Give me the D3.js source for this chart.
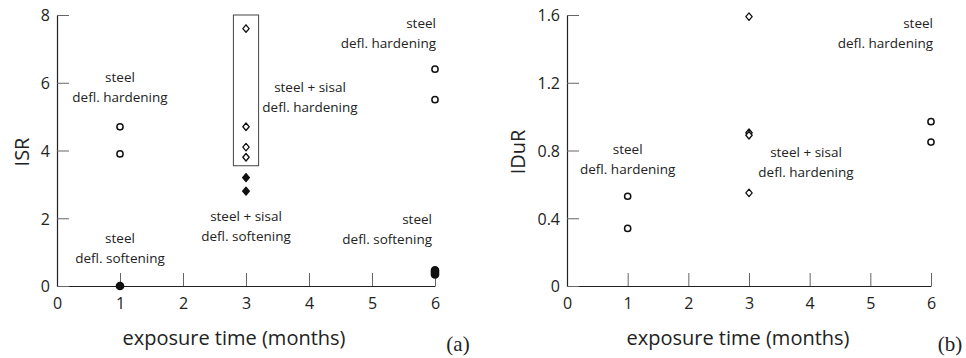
<!DOCTYPE html>
<html>
<head>
<meta charset="utf-8">
<script src="https://cdn.jsdelivr.net/npm/d3@7"></script>
<style>
  html, body { margin: 0; padding: 0; background: #fff; }
  svg { display: block; }
  text { font-family: "Open Sans", "DejaVu Sans", sans-serif; fill: #222; }
</style>
</head>
<body>
<svg id="chart" width="966" height="358"></svg>
<script>
// Exposure time (months) and measured ratios for each fibre / deflection class

// (a) ISR
const isrSteelHardMonths = [1, 1, 6, 6];
const isrSteelHardValues = [4.7, 3.9, 6.4, 5.5];
const isrSteelSoftMonths = [1, 6, 6, 6];
const isrSteelSoftValues = [0, 0.34, 0.40, 0.46];
const isrSisalHardMonths = [3, 3, 3, 3];
const isrSisalHardValues = [7.6, 4.7, 4.1, 3.8];
const isrSisalSoftMonths = [3, 3];
const isrSisalSoftValues = [3.2, 2.8];
const isrBoxMonths = [2.8, 3.2];
const isrBoxValues = [3.55, 8];

// (b) IDuR
const iduSteelHardMonths = [1, 1, 6, 6];
const iduSteelHardValues = [0.53, 0.34, 0.97, 0.85];
const iduSisalHardMonths = [3, 3, 3, 3];
const iduSisalHardValues = [1.59, 0.905, 0.89, 0.55];

const monthTicks = [0, 1, 2, 3, 4, 5, 6];
const isrTicks = [0, 2, 4, 6, 8];
const iduTicks = [0, 0.4, 0.8, 1.2, 1.6];
const iduTickLabels = ["0", "0.4", "0.8", "1.2", "1.6"];

const svg = d3.select("#chart");
const axisColor = "#222";

function zip(ms, vs) { return ms.map((m, i) => ({ m, v: vs[i] })); }

// near-square diamond marker
const squatDiamond = {
  draw(ctx, size) {
    const h = Math.sqrt(size) / 2;
    const w = h * 0.85;
    ctx.moveTo(0, -h);
    ctx.lineTo(w, 0);
    ctx.lineTo(0, h);
    ctx.lineTo(-w, 0);
    ctx.closePath();
  }
};

function panel(opts) {
  const x = d3.scaleLinear().domain([0, 6]).range([opts.x0, opts.x1]);
  const y = d3.scaleLinear().domain(opts.yDomain).range([286, 15]);
  const g = svg.append("g");

  const xAxis = d3.axisBottom(x).tickValues(monthTicks)
    .tickSizeInner(-13).tickSizeOuter(0).tickPadding(16)
    .tickFormat(d3.format("d"));
  const gx = g.append("g").attr("transform", `translate(0,${y(0)})`).call(xAxis);

  const yAxis = d3.axisLeft(y).tickValues(opts.yTicks)
    .tickSizeInner(-12).tickSizeOuter(0).tickPadding(7)
    .tickFormat((d, i) => opts.yLabels[i]);
  const gy = g.append("g").attr("transform", `translate(${x(0)},0)`).call(yAxis);

  [gx, gy].forEach(a => {
    a.select(".domain").attr("stroke", axisColor).attr("stroke-width", 1.2);
    a.selectAll(".tick line").attr("stroke", "#666").attr("stroke-width", 1);
    a.selectAll(".tick text").attr("fill", "#222")
      .style("font-size", "16px").style("font-family", "'Open Sans', sans-serif");
  });
  gx.selectAll(".tick text").attr("dy", "0.42em");
  gy.selectAll(".tick text").attr("dy", "0.36em");

  // axis titles
  g.append("text")
    .attr("x", opts.xTitleX).attr("y", 345)
    .attr("text-anchor", "middle")
    .style("font-size", "20px")
    .text("exposure time (months)");
  g.append("text")
    .attr("transform", `translate(${opts.yTitleX},${152}) rotate(-90)`)
    .attr("text-anchor", "middle")
    .attr("dy", "0.35em")
    .style("font-size", "20px")
    .text(opts.yTitle);

  // panel tag
  g.append("text")
    .attr("x", opts.tagX).attr("y", 351)
    .attr("text-anchor", "middle")
    .style("font-family", "'Liberation Serif', 'Times New Roman', serif")
    .style("font-size", "21px")
    .text(opts.tag);

  return { g, x, y };
}

function circles(p, data, filled) {
  p.g.append("g").selectAll("circle").data(data).join("circle")
    .attr("cx", d => p.x(d.m)).attr("cy", d => p.y(d.v))
    .attr("r", filled ? 3.6 : 3.1)
    .attr("fill", filled ? "#111" : "#fff")
    .attr("stroke", "#111").attr("stroke-width", 1.5);
}

function diamonds(p, data, filled) {
  const sym = d3.symbol().type(squatDiamond).size(filled ? 64 : 56);
  p.g.append("g").selectAll("path").data(data).join("path")
    .attr("transform", d => `translate(${p.x(d.m)},${p.y(d.v)})`)
    .attr("d", sym)
    .attr("fill", filled ? "#111" : "#fff")
    .attr("stroke", "#111").attr("stroke-width", 1.3)
    .attr("stroke-linejoin", "round");
}

function label(p, m, v, lines, anchor, dxPx, dyPx) {
  const t = p.g.append("text")
    .attr("text-anchor", anchor)
    .style("font-size", "13.5px");
  lines.forEach((s, i) => {
    t.append("tspan")
      .attr("x", p.x(m) + (dxPx || 0))
      .attr("y", p.y(v) + (dyPx || 0) + i * 20.5)
      .attr("dy", "0.35em")
      .text(s);
  });
}

// ---------- (a) ISR ----------
const a = panel({
  x0: 57, x1: 435, yDomain: [0, 8], yTicks: isrTicks,
  yLabels: isrTicks.map(String), yTitle: "ISR", yTitleX: 22,
  xTitleX: 234, tag: "(a)", tagX: 458
});

a.g.append("rect")
  .attr("x", a.x(isrBoxMonths[0])).attr("y", a.y(isrBoxValues[1]))
  .attr("width", a.x(isrBoxMonths[1]) - a.x(isrBoxMonths[0]))
  .attr("height", a.y(isrBoxValues[0]) - a.y(isrBoxValues[1]))
  .attr("fill", "none").attr("stroke", "#444").attr("stroke-width", 1);

circles(a, zip(isrSteelHardMonths, isrSteelHardValues), false);
circles(a, zip(isrSteelSoftMonths, isrSteelSoftValues), true);
diamonds(a, zip(isrSisalHardMonths, isrSisalHardValues), false);
diamonds(a, zip(isrSisalSoftMonths, isrSisalSoftValues), true);

label(a, 1, 6.17, ["steel", "defl. hardening"], "middle");
label(a, 1, 1.42, ["steel", "defl. softening"], "middle");
label(a, 3, 2.06, ["steel + sisal", "defl. softening"], "middle");
label(a, 3, 5.87, ["steel + sisal", "defl. hardening"], "middle", 64);
label(a, 6, 7.76, ["steel", "defl. hardening"], "end", 1);
label(a, 6, 1.98, ["steel", "defl. softening"], "end", -3);

// ---------- (b) IDuR ----------
const b = panel({
  x0: 567, x1: 931, yDomain: [0, 1.6], yTicks: iduTicks,
  yLabels: iduTickLabels, yTitle: "IDuR", yTitleX: 518,
  xTitleX: 738, tag: "(b)", tagX: 950
});

circles(b, zip(iduSteelHardMonths, iduSteelHardValues), false);
diamonds(b, zip(iduSisalHardMonths, iduSisalHardValues), false);

label(b, 1, 0.808, ["steel", "defl. hardening"], "middle");
label(b, 3, 0.79, ["steel + sisal", "defl. hardening"], "middle", 57);
label(b, 6, 1.552, ["steel", "defl. hardening"], "end", 2);
</script>
</body>
</html>
